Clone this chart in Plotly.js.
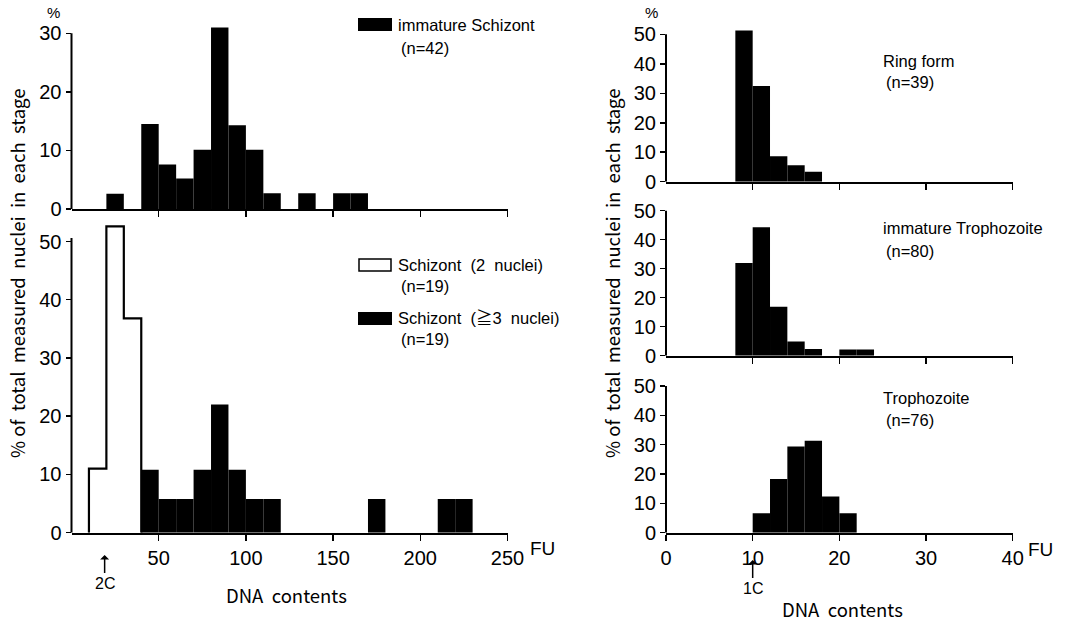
<!DOCTYPE html>
<html>
<head>
<meta charset="utf-8">
<script src="https://cdn.plot.ly/plotly-3.0.1.min.js"></script>
<style>html,body{margin:0;padding:0;background:#fff;}#chart{width:1065px;height:622px;}</style>
</head>
<body>
<div id="chart"></div>
<script>
// ---------------- data (percent of nuclei per DNA-content bin) ----------------
// left panels: bin width 10 FU
const immSchizontBinStart = [20, 40, 50, 60, 70, 80, 90, 100, 110, 130, 150, 160];
const immSchizontPct      = [2.6, 14.5, 7.6, 5.2, 10.1, 31.0, 14.3, 10.1, 2.7, 2.7, 2.7, 2.7];

const schizont2BinStart = [10, 20, 30];
const schizont2Pct      = [11.0, 52.6, 36.8];

const schizont3BinStart = [40, 50, 60, 70, 80, 90, 100, 110, 170, 210, 220];
const schizont3Pct      = [10.8, 5.8, 5.8, 10.8, 22.0, 10.8, 5.8, 5.8, 5.8, 5.8, 5.8];

// right panels: bin width 2 FU
const ringBinStart = [8, 10, 12, 14, 16];
const ringPct      = [51.3, 32.5, 8.6, 5.6, 3.4];

const immTrophBinStart = [8, 10, 12, 14, 16, 20, 22];
const immTrophPct      = [32.0, 44.3, 16.9, 4.9, 2.3, 2.1, 2.1];

const trophBinStart = [10, 12, 14, 16, 18, 20];
const trophPct      = [6.6, 18.3, 29.4, 31.3, 12.3, 6.6];

const leftBinWidth = 10;
const rightBinWidth = 2;

const leftTicks = [50, 100, 150, 200, 250];
const leftTickText = ['50', '100', '150', '200', '250'];
const rightTicks = [0, 10, 20, 30, 40];
const rightTickText = ['0', '10', '20', '30', '40'];

const labels = {
  yTitle: '% of  total  measured  nuclei  in  each  stage',
  xTitle: 'DNA  contents',
  immSchizont: ['immature Schizont', '(n=42)'],
  schizont2: ['Schizont  (2  nuclei)', '(n=19)'],
  schizont3: ['Schizont  (≧3  nuclei)', '(n=19)'],
  ring: ['Ring form', '(n=39)'],
  immTroph: ['immature Trophozoite', '(n=80)'],
  troph: ['Trophozoite', '(n=76)']
};

// ---------------- helpers ----------------
const W = 1065, H = 622;
const px = v => v / W;
const py = v => 1 - v / H;
const TXT = '"Noto Sans CJK JP", "Noto Sans", sans-serif';
const LBL = '"Liberation Sans", Arial, "Noto Sans CJK JP", sans-serif';
const NUM = '"Liberation Sans Narrow", "Liberation Sans", Arial, sans-serif';
const SANS = '"Liberation Sans", Arial, sans-serif';

function barTrace(starts, vals, width, xa, ya) {
  return {
    type: 'bar',
    x: starts.map(s => s + width / 2),
    y: vals,
    width: starts.map(() => width),
    marker: {color: '#000', line: {width: 0}},
    xaxis: xa, yaxis: ya, hoverinfo: 'skip'
  };
}
function stepTrace(starts, vals, width, xa, ya) {
  const xs = [starts[0]], ys = [0];
  starts.forEach((s, i) => { xs.push(s, s + width); ys.push(vals[i], vals[i]); });
  xs.push(starts[starts.length - 1] + width); ys.push(0);
  return {
    type: 'scatter', mode: 'lines', x: xs, y: ys,
    line: {color: '#000', width: 2.2},
    xaxis: xa, yaxis: ya, hoverinfo: 'skip', cliponaxis: false
  };
}

const traces = [
  barTrace(immSchizontBinStart, immSchizontPct, leftBinWidth, 'x', 'y'),
  stepTrace(schizont2BinStart, schizont2Pct, leftBinWidth, 'x2', 'y2'),
  barTrace(schizont3BinStart, schizont3Pct, leftBinWidth, 'x2', 'y2'),
  barTrace(ringBinStart, ringPct, rightBinWidth, 'x3', 'y3'),
  barTrace(immTrophBinStart, immTrophPct, rightBinWidth, 'x4', 'y4'),
  barTrace(trophBinStart, trophPct, rightBinWidth, 'x5', 'y5')
];

function xAxis(domain, range, ticks, text, showLabels, anchor) {
  return {
    domain: domain, range: range, anchor: anchor,
    showline: true, linecolor: '#000', linewidth: 2,
    ticks: 'outside', ticklen: 6, tickwidth: 1.5, tickcolor: '#000',
    tickmode: 'array', tickvals: ticks, ticktext: text,
    showticklabels: showLabels, showgrid: false, zeroline: false,
    tickfont: {family: NUM, size: 20, color: '#000'}
  };
}
function yAxis(domain, range, ticks, anchor) {
  return {
    domain: domain, range: range, anchor: anchor,
    showline: false, ticks: 'outside', ticklen: 5, tickwidth: 1.5, tickcolor: '#000',
    tickmode: 'array', tickvals: ticks, ticktext: ticks.map(String),
    showgrid: false, zeroline: false,
    tickfont: {family: NUM, size: 20, color: '#000'}
  };
}

const LX = [px(71.5), px(507.5)];
const RX = [px(666), px(1012.7)];

const layout = {
  width: W, height: H,
  margin: {l: 0, r: 0, t: 0, b: 0},
  paper_bgcolor: '#fff', plot_bgcolor: 'rgba(0,0,0,0)',
  showlegend: false,
  xaxis:  xAxis(LX, [0, 250], leftTicks, leftTickText, false, 'y'),
  xaxis2: xAxis(LX, [0, 250], leftTicks, leftTickText, true, 'y2'),
  xaxis3: xAxis(RX, [0, 40], rightTicks.slice(1), rightTickText.slice(1), false, 'y3'),
  xaxis4: xAxis(RX, [0, 40], rightTicks.slice(1), rightTickText.slice(1), false, 'y4'),
  xaxis5: xAxis(RX, [0, 40], rightTicks, rightTickText, true, 'y5'),
  yaxis:  yAxis([py(209), py(21.6)], [0, 32], [0, 10, 20, 30], 'x'),
  yaxis2: yAxis([py(532.7), py(218.2)], [0, 54], [0, 10, 20, 30, 40, 50], 'x2'),
  yaxis3: yAxis([py(181.7), py(25.5)], [0, 53], [0, 10, 20, 30, 40, 50], 'x3'),
  yaxis4: yAxis([py(355.7), py(202)], [0, 53], [0, 10, 20, 30, 40, 50], 'x4'),
  yaxis5: yAxis([py(532.7), py(377.2)], [0, 53], [0, 10, 20, 30, 40, 50], 'x5'),
  shapes: [],
  annotations: []
};

// y axis lines ending at the top tick
[['x', 'y', 30], ['x2', 'y2', 50.6], ['x3', 'y3', 50], ['x4', 'y4', 50], ['x5', 'y5', 50]].forEach(([xa, ya, top]) => {
  layout.shapes.push({type: 'line', xref: xa + ' domain', yref: ya, x0: 0, x1: 0, y0: 0, y1: top,
    line: {color: '#000', width: 2}});
});

// legend swatches
layout.shapes.push(
  {type: 'rect', xref: 'paper', yref: 'paper', x0: px(358), x1: px(392), y0: py(31), y1: py(18),
   fillcolor: '#000', line: {width: 0}},
  {type: 'rect', xref: 'paper', yref: 'paper', x0: px(359), x1: px(391), y0: py(271), y1: py(259),
   fillcolor: '#fff', line: {color: '#000', width: 1.5}},
  {type: 'rect', xref: 'paper', yref: 'paper', x0: px(358), x1: px(392), y0: py(325), y1: py(312),
   fillcolor: '#000', line: {width: 0}}
);

function note(text, x, y, size, anchor, family) {
  return {xref: 'paper', yref: 'paper', x: px(x), y: py(y), text: text, showarrow: false,
    xanchor: anchor || 'left', yanchor: 'middle', align: 'left', borderpad: 0,
    font: {family: family || TXT, size: size || 16, color: '#000'}};
}
function twoLine(pair, x, y1, y2) {
  return [note(pair[0], x, y1, 16.5, 'left', LBL), note(pair[1], x + 3, y2, 16.5, 'left', LBL)];
}

layout.annotations.push(
  // legends / stage labels
  ...twoLine(labels.immSchizont, 397, 25, 48),
  ...twoLine(labels.schizont2, 397, 265, 286),
  ...twoLine(labels.schizont3, 397, 318, 339),
  ...twoLine(labels.ring, 882, 61, 82),
  ...twoLine(labels.immTroph, 882, 228, 251),
  ...twoLine(labels.troph, 882, 398, 420),
  // % labels
  note('%', 53, 12, 15, 'center', SANS),
  note('%', 651, 12, 15, 'center', SANS),
  // FU units
  note('FU', 542, 548, 19, 'center', SANS),
  note('FU', 1040, 549, 19, 'center', SANS),
  // axis titles
  note(labels.xTitle, 286, 595, 18.5, 'center'),
  note(labels.xTitle, 843, 609, 18.5, 'center'),
  Object.assign(note(labels.yTitle, 17, 273, 18.5, 'center'), {textangle: -90}),
  Object.assign(note(labels.yTitle, 612, 273, 18.5, 'center'), {textangle: -90}),
  // 2C / 1C markers
  {xref: 'x2', yref: 'paper', x: 19, y: py(555), ax: 0, ay: 28, text: '2C', showarrow: true,
   arrowhead: 1, arrowsize: 1, arrowwidth: 1.5, arrowcolor: '#000', standoff: 0,
   font: {family: LBL, size: 16, color: '#000'}},
  {xref: 'x5', yref: 'paper', x: 10, y: py(560), ax: 0, ay: 28, text: '1C', showarrow: true,
   arrowhead: 1, arrowsize: 1, arrowwidth: 1.5, arrowcolor: '#000', standoff: 0,
   font: {family: LBL, size: 16, color: '#000'}}
);

Plotly.newPlot('chart', traces, layout, {staticPlot: true, displayModeBar: false});
</script>
</body>
</html>
